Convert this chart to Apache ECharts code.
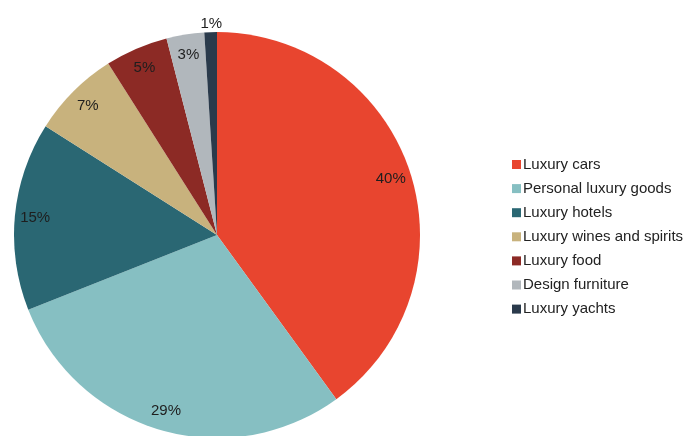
<!DOCTYPE html>
<html>
<head>
<meta charset="utf-8">
<script src="https://cdn.jsdelivr.net/npm/echarts@6/dist/echarts.min.js"></script>
<style>
  html, body { margin: 0; padding: 0; background: #ffffff; }
  #chart { width: 687px; height: 436px; }
</style>
</head>
<body>
<div id="chart"></div>
<script>
// Market segments and their shares (percent)
const categories = [
  'Luxury cars',
  'Personal luxury goods',
  'Luxury hotels',
  'Luxury wines and spirits',
  'Luxury food',
  'Design furniture',
  'Luxury yachts'
];
const shares = [40, 29, 15, 7, 5, 3, 1];
const colors = ['#E8452F', '#86BFC2', '#2A6773', '#C8B27D', '#8C2A25', '#B1B7BC', '#2A3A4B'];

const FONT = 'Liberation Sans, Arial, Helvetica, sans-serif';
const CENTER = [217, 235];
const R = 203;

const sliceData = categories.map((name, i) => ({
  name,
  value: shares[i],
  itemStyle: { color: colors[i] }
}));

// Transparent ring used only to place the percentage labels near the rim
const labelData = categories.map((name, i) => {
  const item = { name, value: shares[i], itemStyle: { color: 'rgba(0,0,0,0)' } };
  if (i === categories.length - 1) {
    item.label = { offset: [0, -29] };
  }
  return item;
});

const chart = echarts.init(document.getElementById('chart'), null, { renderer: 'canvas' });
chart.setOption({
  animation: false,
  backgroundColor: '#ffffff',
  color: colors,
  legend: {
    orient: 'vertical',
    left: 507,
    top: 152,
    itemWidth: 9,
    itemHeight: 9,
    itemGap: 9.1,
    icon: 'rect',
    data: categories,
    textStyle: {
      fontFamily: FONT,
      fontSize: 15,
      color: '#222222',
      padding: [0, 0, 0, -3]
    }
  },
  series: [
    {
      type: 'pie',
      center: CENTER,
      radius: [0, R],
      startAngle: 90,
      clockwise: true,
      label: { show: false },
      labelLine: { show: false },
      emphasis: { disabled: true },
      data: sliceData
    },
    {
      type: 'pie',
      center: CENTER,
      radius: [R * 0.77, R],
      startAngle: 90,
      clockwise: true,
      silent: true,
      legendHoverLink: false,
      label: {
        show: true,
        position: 'inside',
        formatter: '{c}%',
        fontFamily: FONT,
        fontSize: 15,
        color: '#1e1e1e'
      },
      labelLine: { show: false },
      emphasis: { disabled: true },
      data: labelData
    }
  ]
});
</script>
</body>
</html>
